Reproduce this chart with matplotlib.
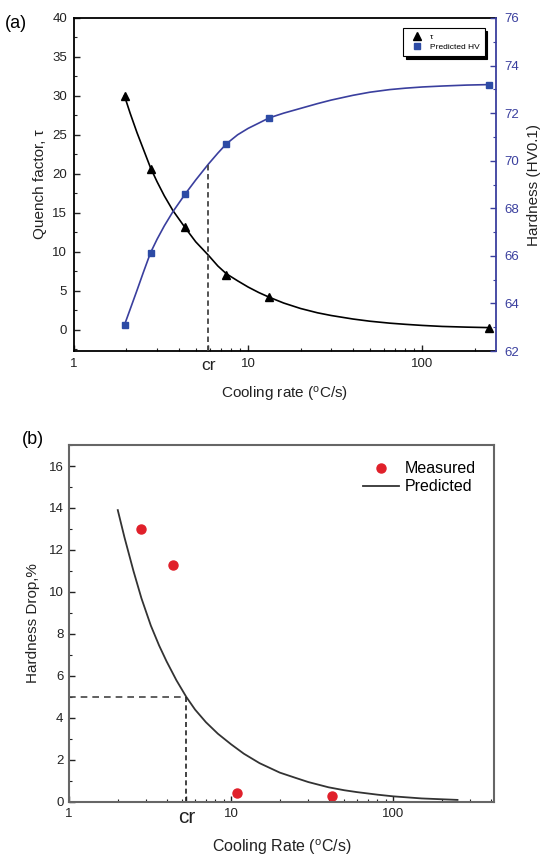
import numpy as np
import matplotlib.pyplot as plt
from matplotlib.ticker import LogLocator, NullFormatter, MultipleLocator

plt.rcParams['font.family'] = ['Liberation Sans', 'DejaVu Sans']
plt.rcParams['mathtext.default'] = 'regular'

# --- (a) quench factor and predicted hardness ---
rate_a = [1.95, 2.75, 4.35, 7.5, 13.2, 240]
tau = [30.0, 20.6, 13.2, 7.0, 4.2, 0.3]
hv = [63.1, 66.1, 68.6, 70.7, 71.8, 73.2]

# fitted curves
curve_x_a = [1.95, 2.1, 2.3, 2.5, 2.75, 3.0, 3.3, 3.7, 4.35, 5.0, 5.9, 6.7, 7.5, 8.7,
             10, 11.5, 13.2, 16, 20, 25, 30, 40, 50, 65, 80, 100, 130, 180, 240]
tau_curve = [30.0, 27.8, 25.3, 23.2, 20.8, 19.0, 17.2, 15.3, 13.1, 11.3, 9.6, 8.2, 7.2, 6.3,
             5.5, 4.8, 4.2, 3.45, 2.75, 2.2, 1.85, 1.4, 1.12, 0.87, 0.72, 0.58, 0.45, 0.36, 0.3]
hv_curve = [63.1, 63.75, 64.55, 65.3, 66.13, 66.7, 67.26, 67.86, 68.6, 69.19, 69.85, 70.32, 70.71, 71.09,
            71.36, 71.58, 71.8, 72.0, 72.2, 72.4, 72.55, 72.75, 72.88, 72.99, 73.05, 73.1, 73.14, 73.18, 73.2]
cr_a = 5.9
hv_cr = 69.85

# --- (b) hardness drop ---
measured_x = [2.8, 4.4, 10.9, 42]
measured = [13.0, 11.3, 0.43, 0.3]
pred_x = [2.0, 2.2, 2.5, 2.8, 3.2, 3.6, 4.0, 4.6, 5.3, 6.0, 7.0, 8.3, 10, 12, 15,
          20, 25, 30, 40, 50, 60, 80, 100, 150, 200, 250]
pred = [13.9, 12.6, 11.0, 9.7, 8.4, 7.45, 6.7, 5.8, 5.0, 4.4, 3.8, 3.25, 2.75, 2.3, 1.85,
        1.4, 1.15, 0.95, 0.7, 0.56, 0.47, 0.35, 0.27, 0.17, 0.13, 0.1]
cr_b = 5.3
drop_cr = 5.0

blue = '#3a3f9e'
txt = '#222222'

fig = plt.figure(figsize=(5.44, 8.57), dpi=100)

# ---------- panel (a) ----------
ax = fig.add_axes([74 / 544, 1 - 351 / 857, 422 / 544, 333 / 857])
ax2 = ax.twinx()

ax.plot(curve_x_a, tau_curve, color='black', lw=1.2)
l1, = ax.plot(rate_a, tau, '^', color='black', ms=5.5, label='τ')
ax2.plot(curve_x_a, hv_curve, color=blue, lw=1.2)
l2, = ax2.plot(rate_a, hv, 's', color='#2d4ba5', ms=4.5, label='Predicted HV')
ax2.plot([cr_a, cr_a], [62, hv_cr], '--', color='#444444', lw=1.3, dashes=(3, 2))

ax.set_xscale('log')
ax.set_xlim(1, 265)
ax.set_ylim(-2.7, 40)
ax2.set_ylim(62, 76)

ax.set_xticks([1, cr_a, 10, 100])
ax.set_xticklabels(['1', 'cr', '10', '100'])
ax.xaxis.set_minor_locator(LogLocator(base=10, subs=np.arange(2, 10)))
ax.xaxis.set_minor_formatter(NullFormatter())
ax.yaxis.set_major_locator(MultipleLocator(5))
ax.yaxis.set_minor_locator(MultipleLocator(2.5))
ax2.yaxis.set_major_locator(MultipleLocator(2))
ax2.yaxis.set_minor_locator(MultipleLocator(1))

ax.tick_params(which='both', direction='in', top=False, right=False, labelsize=9.5, colors=txt, pad=5)
ax.tick_params(which='major', length=4, width=1)
ax.tick_params(which='minor', length=2.5, width=0.8)
ax2.tick_params(which='both', direction='in', colors=blue, labelsize=9.5, pad=6)
ax2.tick_params(which='major', length=4, width=1)
ax2.tick_params(which='minor', length=2.5, width=0.8)
ax.get_xticklabels()[1].set_fontsize(12.5)

for s in ['left', 'bottom', 'top']:
    ax.spines[s].set_linewidth(1.3)
ax.spines['right'].set_visible(False)
ax2.spines['right'].set_color(blue)
ax2.spines['right'].set_linewidth(1.3)
for s in ['left', 'bottom', 'top']:
    ax2.spines[s].set_visible(False)

ax.set_ylabel('Quench factor, τ', fontsize=11, color=txt, labelpad=4)
ax2.set_ylabel('Hardness (HV0.1)', fontsize=11, color=txt, labelpad=6)
ax.set_xlabel('Cooling rate ($^{o}$C/s)', fontsize=11, color=txt, labelpad=9)

leg = ax2.legend(handles=[l1, l2], loc='upper right', bbox_to_anchor=(0.983, 0.983),
                 fontsize=6, frameon=True, fancybox=False, shadow={'color': 'black', 'alpha': 1},
                 edgecolor='black', borderpad=0.6, handletextpad=0.6, labelspacing=0.3)
leg.get_frame().set_linewidth(0.8)

fig.text(5 / 544, 1 - 24 / 857, '(a)', fontsize=13, va='center', ha='left')

# ---------- panel (b) ----------
bx = fig.add_axes([69 / 544, 1 - 802 / 857, 425 / 544, 357 / 857])
bx.plot(measured_x, measured, 'o', color='#e0202a', ms=6.5, label='Measured')
bx.plot(pred_x, pred, color='#333333', lw=1.3, label='Predicted')
bx.plot([1, cr_b], [drop_cr, drop_cr], '--', color='#444444', lw=1.2, dashes=(4, 3))
bx.plot([cr_b, cr_b], [0, drop_cr], '--', color='#222222', lw=1.2, dashes=(3, 2))

bx.set_xscale('log')
bx.set_xlim(1, 420)
bx.set_ylim(0, 17)
bx.set_xticks([1, cr_b, 10, 100])
bx.set_xticklabels(['1', 'cr', '10', '100'])
bx.xaxis.set_minor_locator(LogLocator(base=10, subs=np.arange(2, 10)))
bx.xaxis.set_minor_formatter(NullFormatter())
bx.yaxis.set_major_locator(MultipleLocator(2))
bx.yaxis.set_minor_locator(MultipleLocator(1))
bx.tick_params(which='both', direction='in', top=False, right=False, labelsize=9.5, colors=txt, pad=4)
bx.tick_params(which='major', length=4, width=1)
bx.tick_params(which='minor', length=2.5, width=0.8)
bx.get_xticklabels()[1].set_fontsize(15)
for s in bx.spines.values():
    s.set_color('#666666')
    s.set_linewidth(1.5)

bx.set_ylabel('Hardness Drop,%', fontsize=11, color=txt, labelpad=6)
bx.set_xlabel('Cooling Rate ($^{o}$C/s)', fontsize=11.5, color=txt, labelpad=8)
bx.legend(loc='upper right', bbox_to_anchor=(0.99, 0.995), frameon=False, fontsize=11.5,
          handlelength=2.3, handletextpad=0.3, labelspacing=0.2)

fig.text(22 / 544, 1 - 440 / 857, '(b)', fontsize=13, va='center', ha='left')

fig.savefig('out.png', dpi=100)
